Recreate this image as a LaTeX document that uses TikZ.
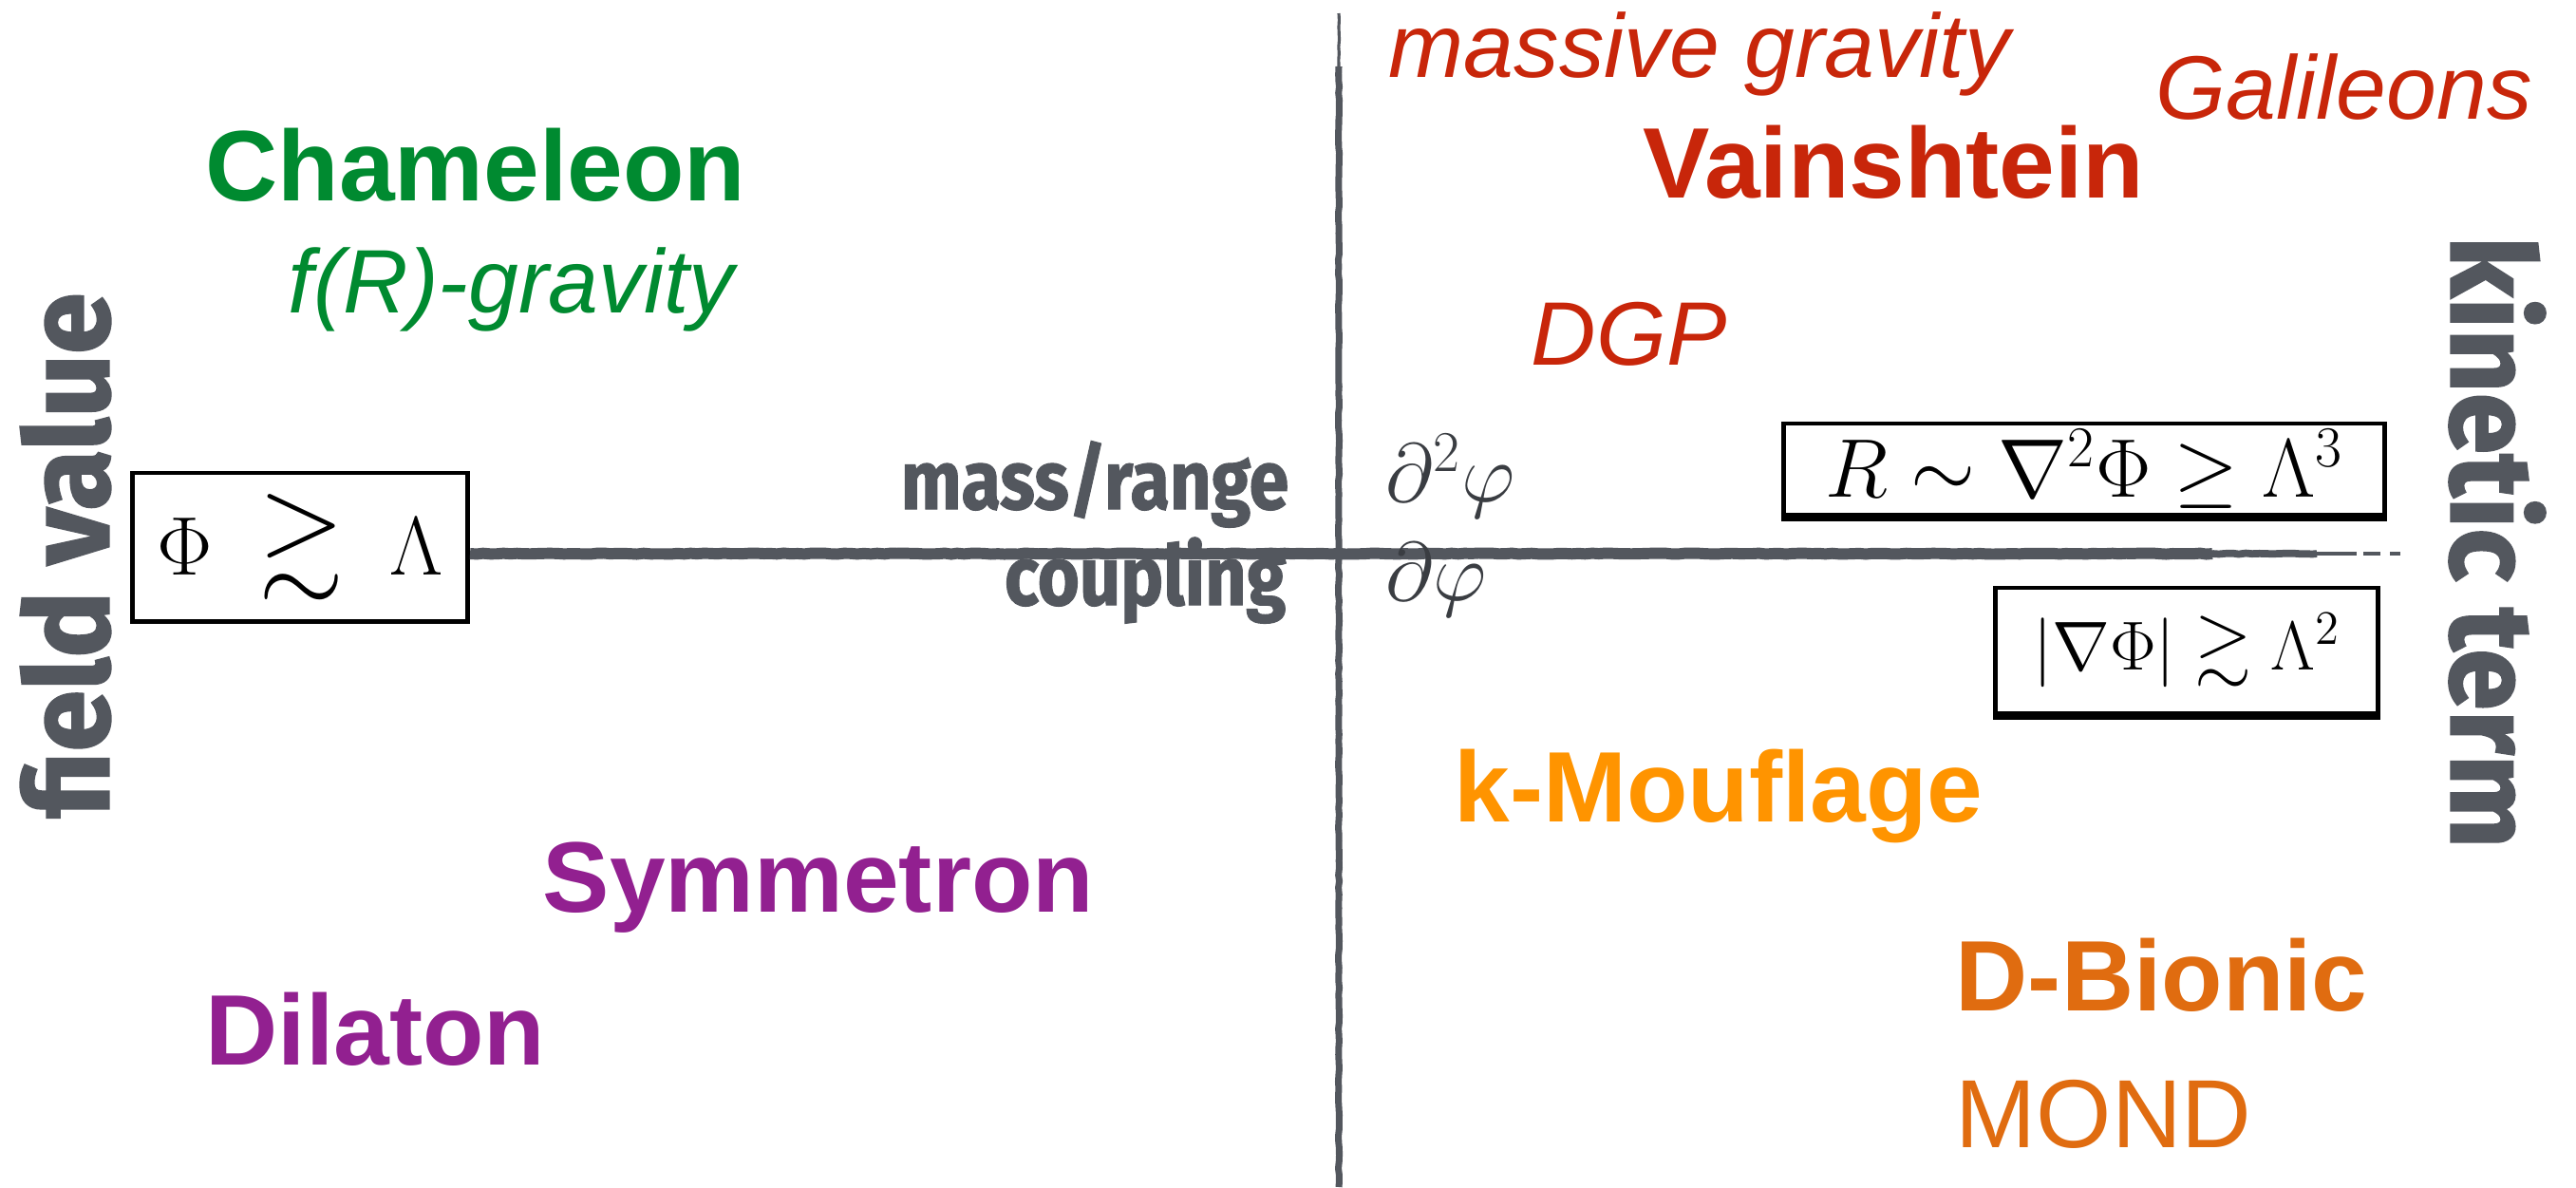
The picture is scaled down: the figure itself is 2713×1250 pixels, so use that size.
\documentclass[tikz,border=0pt]{standalone}
\usepackage{amsmath,amssymb}
\usepackage{fontspec}
\setmainfont{Liberation Sans}
\newfontfamily\chalkfont{Fira Sans}[FakeStretch=0.86, FakeBold=1.2]
\newfontfamily\axisfont{Fira Sans}[FakeStretch=0.95, FakeBold=1.5]
\usetikzlibrary{decorations.pathmorphing}

\definecolor{axisgray}{RGB}{83,87,94}
\definecolor{cgreen}{RGB}{0,138,48}
\definecolor{cred}{RGB}{200,38,10}
\definecolor{corange}{RGB}{255,148,0}
\definecolor{cdkorange}{RGB}{224,108,16}
\definecolor{cpurple}{RGB}{146,32,144}

\tikzset{
  boldname/.style={font=\fontsize{30pt}{36pt}\selectfont\bfseries, inner sep=0pt},
  lightname/.style={font=\fontsize{27pt}{32pt}\selectfont\itshape, inner sep=0pt},
  axislabel/.style={font=\fontsize{35pt}{42pt}\selectfont\axisfont\bfseries, text=axisgray, inner sep=0pt},
  sidelabel/.style={font=\fontsize{25pt}{30pt}\selectfont\chalkfont\bfseries, text=axisgray, inner sep=0pt},
  derivlabel/.style={font=\fontsize{26pt}{30pt}\selectfont, text=axisgray!70!black, inner sep=0pt},
  condbox/.style={draw=black, line width=1.4pt, inner sep=0pt, fill=white},
  chalk/.style={draw=axisgray, decorate, decoration={random steps, segment length=2pt, amplitude=0.15pt}}
}

\begin{document}
\begin{tikzpicture}[x=0.01cm, y=-0.01cm]
  \useasboundingbox[fill=white] (0,0) rectangle (2713,1250);

  % condition boxes
  \node[condbox, minimum width=3.53cm, minimum height=1.56cm] (phibox) at (316,576)
    {\fontsize{33pt}{36pt}\selectfont$\Phi \;\gtrsim\; \Lambda$};
  \node[condbox, minimum width=6.33cm, minimum height=0.96cm] (curvbox) at (2195,494)
    {\fontsize{27pt}{30pt}\selectfont$R \sim \nabla^2\Phi \geq \Lambda^3$};
  \node[condbox, minimum width=4.02cm, minimum height=1.32cm] (gradbox) at (2303,685)
    {\fontsize{22pt}{26pt}\selectfont$|\nabla\Phi| \gtrsim \Lambda^2$};
  \draw[line width=2.6pt] (curvbox.south west) -- (curvbox.south east);
  \draw[line width=2.6pt] (gradbox.south west) -- (gradbox.south east);

  % axes, drawn as chalk strokes that thin out at their ends
  \coordinate (vtop) at (1410,14);
  \coordinate (vupper) at (1410,70);
  \coordinate (vbot) at (1410,1250);
  \coordinate (hend) at (2540,583);
  \coordinate (hmid) at (2330,583);
  \coordinate (hfade) at (2440,583);
  \draw[chalk, line width=2.0pt] (vupper) -- (vbot);
  \draw[chalk, line width=0.9pt] (vtop) -- (vupper);
  \draw[chalk, line width=3.4pt] (phibox.east |- hend) -- (hmid);
  \draw[chalk, line width=2.2pt] (hmid) -- (hfade);
  \draw[axisgray, line width=1.1pt, dash pattern=on 12pt off 2pt on 5pt off 3pt on 3pt off 4pt on 2pt off 5pt]
    (hfade) -- (hend);

  % axis labels
  \node[axislabel, rotate=90] (fieldlbl) at (69,585) {field value};
  \node[axislabel, rotate=-90] (kinlbl) at (2630,571) {kinetic term};
  \node[sidelabel, anchor=base east] (massrange) at (1358,536) {mass/range};
  \node[sidelabel, anchor=base east] (coupling) at (1355,637) {coupling};
  \node[derivlabel, anchor=base west] (d2phi) at (1459,528) {$\partial^2\varphi$};
  \node[derivlabel, anchor=base west] (d1phi) at (1459,632) {$\partial\varphi$};

  % screening mechanisms and theories
  \node[boldname, text=cgreen, anchor=base west] (chameleon) at (216,211) {Chameleon};
  \node[lightname, text=cgreen, anchor=base west] (fR) at (303,329) {f(R)-gravity};
  \node[lightname, text=cred, anchor=base west] (massive) at (1462,81) {massive gravity};
  \node[lightname, text=cred, anchor=base west] (galileons) at (2270,125) {Galileons};
  \node[boldname, text=cred, anchor=base west] (vainshtein) at (1730,208) {Vainshtein};
  \node[lightname, text=cred, anchor=base west] (dgp) at (1612,384) {DGP};
  \node[boldname, text=corange, anchor=base west] (kmouflage) at (1531,865) {k-Mouflage};
  \node[boldname, text=cpurple, anchor=base west] (symmetron) at (571,960) {Symmetron};
  \node[boldname, text=cpurple, anchor=base west] (dilaton) at (216,1121) {Dilaton};
  \node[boldname, text=cdkorange, anchor=base west] (dbionic) at (2059,1064) {D-Bionic};
  \node[boldname, font=\fontsize{29pt}{34pt}\selectfont, text=cdkorange, anchor=base west] (mond) at (2059,1208) {MOND};
\end{tikzpicture}
\end{document}
